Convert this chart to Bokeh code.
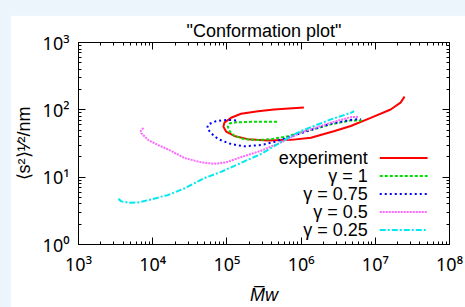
import math
from bokeh.plotting import figure
from bokeh.models import (LogAxis, LogTicker, CustomJSTickFormatter, Label,
                          GlobalInlineStyleSheet)
from bokeh.embed import file_html
from bokeh.resources import INLINE

# ---------------- data ----------------
exp_mw = [1.09e6, 4.31e5, 2.63e5, 1.55e5, 1.14e5, 9.25e4, 8.97e4, 9.75e4, 1.26e5,
          1.91e5, 3.55e5, 7.3e5, 1.355e6, 2.76e6, 4.67e6, 8.67e6, 1.61e7, 2.19e7, 2.48e7]
exp_s = [108.1, 101.0, 95.3, 87.4, 76.3, 64.5, 56.3, 47.6, 41.0,
         36.7, 35.1, 35.8, 38.6, 48.1, 57.5, 75.8, 101.0, 128.0, 157.0]

g100_mw = [4.73e5, 2.11e5, 1.33e5, 1.10e5, 1.03e5, 1.08e5, 1.26e5, 1.72e5, 2.60e5,
           3.93e5, 6.25e5, 9.93e5, 2.52e6, 4.67e6, 6.71e6]
g100_s = [66.7, 66.4, 65.2, 63.0, 56.3, 48.6, 41.0, 36.7, 35.5,
          36.7, 39.9, 46.0, 60.8, 69.7, 69.7]

g075_mw = [1.33e5, 1.01e5, 7.16e4, 5.59e4, 5.42e4, 6.13e4, 7.62e4, 1.14e5, 1.70e5,
           2.88e5, 4.3e5, 9.93e5, 2.52e6, 4.67e6, 6.37e6]
g075_s = [69.7, 70.9, 68.0, 60.8, 53.2, 44.9, 36.7, 31.0, 28.7,
          30.0, 33.2, 45.0, 62.3, 70.9, 73.3]

g050_mw = [7.48e3, 6.92e3, 7.03e3, 8.73e3, 1.19e4, 1.78e4, 2.66e4, 4.5e4, 6.73e4,
           9.75e4, 1.55e5, 2.88e5, 5.35e5, 9.93e5, 2.52e6, 4.67e6, 6.04e6]
g050_s = [54.1, 48.9, 44.9, 35.5, 30.0, 24.5, 19.3, 16.6, 15.8,
          16.6, 19.8, 24.7, 32.8, 46.0, 64.5, 77.9, 78.9]

g025_mw = [3.45e3, 3.78e3, 4.85e3, 6.6e3, 9.57e3, 1.62e4, 2.66e4, 4.94e4, 8.35e4,
           1.55e5, 2.88e5, 4.83e5, 7.3e5, 9.93e5, 2.52e6, 4.67e6, 5.17e6]
g025_s = [4.76, 4.37, 4.16, 4.23, 4.68, 5.45, 6.78, 9.67, 12.0,
          16.3, 22.1, 31.0, 40.6, 48.5, 72.1, 90.4, 95.3]

series_names = ["experiment", "γ = 1", "γ = 0.75", "γ = 0.5", "γ = 0.25"]
series_x = [exp_mw, g100_mw, g075_mw, g050_mw, g025_mw]
series_y = [exp_s, g100_s, g075_s, g050_s, g025_s]

title_text = '"Conformation plot"'
x_label = "M̅w"
y_label = "⟨s²⟩¹⁄²/nm"

# ---------------- styles ----------------
colors = ["#ff0000", "#00dd00", "#0000ff", "#ff66ff", "#00e8f0"]
dashes = ["solid", "3 2", "2 3", "2 1", "6 2 2 2"]
FONT = "Liberation Sans"
TICK_FONT = "Noto Sans"
FS = "18px"

XLO, XHI = 1e3, 1e8
YLO, YHI = 1.0, 1e3

page_css = GlobalInlineStyleSheet(css="html,body{margin:0;padding:0;background:#ebf5fb;overflow:hidden;}")

p = figure(width=455, height=292, x_axis_type="log", y_axis_type="log",
           x_range=(XLO, XHI), y_range=(YLO, YHI),
           output_backend="svg", toolbar_location=None, title=title_text,
           min_border_left=67, min_border_right=16, min_border_top=27,
           min_border_bottom=58, stylesheets=[page_css],
           styles={"margin-left": "10px", "margin-top": "15px"})
p.background_fill_color = "white"
p.border_fill_color = "white"
p.outline_line_color = "black"
p.grid.visible = False

p.title.text_font = FONT
p.title.text_font_size = FS
p.title.text_font_style = "normal"
p.title.align = "center"
p.title.text_color = "black"
p.title.vertical_align = "top"
p.title.standoff = 0

sup_js = """
const sup = {"0":"⁰","1":"¹","2":"²","3":"³","4":"⁴","5":"⁵","6":"⁶","7":"⁷","8":"⁸","9":"⁹","-":"⁻"};
const e = Math.round(Math.log10(tick));
return "10" + String(e).split("").map(c => sup[c]).join("");
"""

def style_axis(ax, show_labels=True):
    ax.ticker = LogTicker(num_minor_ticks=10)
    ax.axis_line_color = "black"
    ax.major_tick_line_color = "black"
    ax.minor_tick_line_color = "black"
    ax.major_tick_in = 7
    ax.major_tick_out = 0
    ax.minor_tick_in = 3
    ax.minor_tick_out = 0
    if show_labels:
        ax.formatter = CustomJSTickFormatter(code=sup_js)
        ax.major_label_text_font = TICK_FONT
        ax.major_label_text_font_size = FS
        ax.major_label_text_color = "black"
        ax.axis_label_text_font = FONT
        ax.axis_label_text_font_size = FS
        ax.axis_label_text_font_style = "normal"
        ax.axis_label_text_color = "black"
    else:
        ax.major_label_text_font_size = "1px"
        ax.major_label_text_alpha = 0
        ax.major_label_standoff = 0

for ax in p.xaxis:
    style_axis(ax)
    ax.major_label_standoff = 7
    ax.axis_label = x_label
    ax.axis_label_text_font_style = "italic"
    ax.axis_label_standoff = 6
for ax in p.yaxis:
    style_axis(ax)
    ax.major_label_standoff = 9
    ax.axis_label = y_label
    ax.axis_label_standoff = 6

top_ax = LogAxis()
style_axis(top_ax, show_labels=False)
p.add_layout(top_ax, "above")
right_ax = LogAxis()
style_axis(right_ax, show_labels=False)
p.add_layout(right_ax, "right")

for xs, ys, c, d in zip(series_x, series_y, colors, dashes):
    p.line(xs, ys, line_color=c, line_width=2, line_dash=d)

# ---------------- legend (gnuplot style: text, then sample) ----------------
def fx(f):
    return 10 ** (math.log10(XLO) + f * (math.log10(XHI) - math.log10(XLO)))

def fy(f):
    return 10 ** (math.log10(YLO) + f * (math.log10(YHI) - math.log10(YLO)))

row0, row_step = 0.4284, 0.0892
for i, (name, c, d) in enumerate(zip(series_names, colors, dashes)):
    yy = fy(row0 - i * row_step)
    p.add_layout(Label(x=fx(0.7796), y=yy, text=name, text_align="right",
                       text_baseline="middle", text_font=FONT,
                       text_font_size=FS, text_color="black"))
    p.line([fx(0.812), fx(0.941)], [yy, yy], line_color=c, line_width=2,
           line_dash=d)

open("out.html", "w").write(file_html(p, INLINE))
